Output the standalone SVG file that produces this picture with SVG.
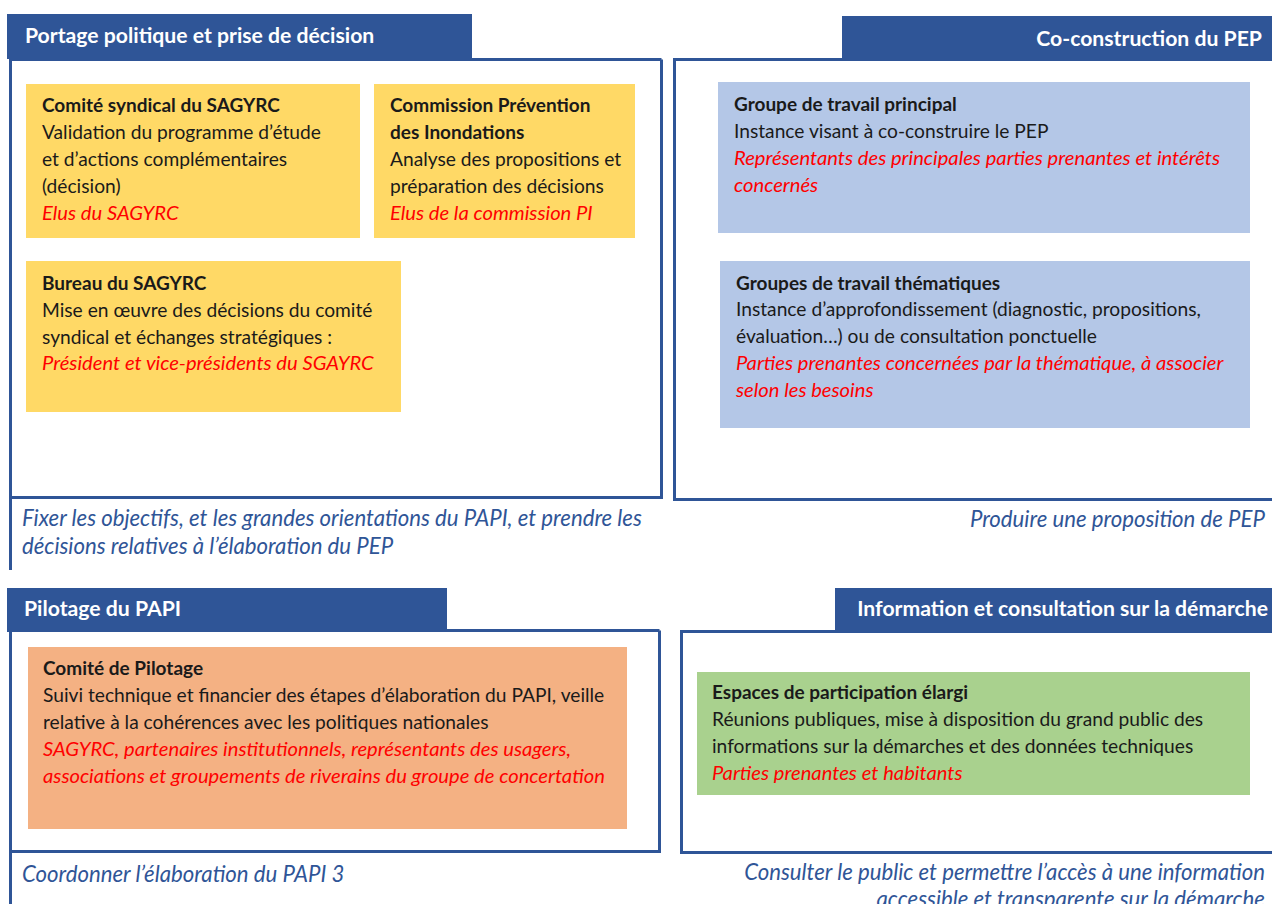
<svg xmlns="http://www.w3.org/2000/svg" width="1272" height="904" viewBox="0 0 1272 904">
<style>
text{font-family:Lato,"Open Sans","Liberation Sans",sans-serif;font-size:19.2px;fill:#1a1a1a}
.hd{fill:#fff;font-weight:bold;font-size:21.2px}
.b{font-weight:bold;font-size:19px}
.r{fill:#ff0000;font-style:italic;font-size:20.2px}
.ft{fill:#2F5597;font-style:italic;font-size:22.2px}
.tab{fill:#2F5597}
.frame{fill:none;stroke:#2F5597;stroke-width:3}
.y{fill:#FFD966}
.bl{fill:#B4C7E7}
.o{fill:#F4B183}
.g{fill:#A9D18E}
.end{text-anchor:end}
</style>
<rect width="1272" height="904" fill="#fff"/>

<g id="panel-portage">
<path class="frame" d="M661.5 59.5 V497.5 H10.5 V570 M10.5 497.5 V59.5 H661.5"/>
<rect class="tab" x="7" y="14" width="465" height="45"/>
<text class="hd" x="25" y="43">Portage politique et prise de décision</text>
<text class="ft" x="22" y="526">Fixer les objectifs, et les grandes orientations du PAPI, et prendre les</text>
<text class="ft" x="22" y="554">décisions relatives à l’élaboration du PEP</text>
</g>

<g id="node-comite-syndical">
<rect class="y" x="26" y="84" width="334" height="154"/>
<text class="b" x="42" y="112">Comité syndical du SAGYRC</text>
<text x="42" y="139">Validation du programme d’étude</text>
<text x="42" y="166">et d’actions complémentaires</text>
<text x="42" y="193">(décision)</text>
<text class="r" x="42" y="220">Elus du SAGYRC</text>
</g>

<g id="node-commission">
<rect class="y" x="374" y="84" width="261" height="154"/>
<text class="b" x="390" y="112">Commission Prévention</text>
<text class="b" x="390" y="139">des Inondations</text>
<text x="390" y="166">Analyse des propositions et</text>
<text x="390" y="193">préparation des décisions</text>
<text class="r" x="390" y="220">Elus de la commission PI</text>
</g>

<g id="node-bureau">
<rect class="y" x="26" y="261" width="375" height="151"/>
<text class="b" x="42" y="290">Bureau du SAGYRC</text>
<text x="42" y="317">Mise en œuvre des décisions du comité</text>
<text x="42" y="344">syndical et échanges stratégiques :</text>
<text class="r" x="42" y="370">Président et vice-présidents du SGAYRC</text>
</g>

<g id="panel-coconstruction">
<path class="frame" d="M1275 499.5 H674.5 V59.5 H1275"/>
<rect class="tab" x="842" y="16" width="430" height="44"/>
<text class="hd end" x="1262" y="46">Co-construction du PEP</text>
<text class="ft end" x="1265" y="527">Produire une proposition de PEP</text>
</g>

<g id="node-groupe-principal">
<rect class="bl" x="718" y="82" width="532" height="151"/>
<text class="b" x="734" y="111">Groupe de travail principal</text>
<text x="734" y="138">Instance visant à co-construire le PEP</text>
<text class="r" x="734" y="165">Représentants des principales parties prenantes et intérêts</text>
<text class="r" x="734" y="192">concernés</text>
</g>

<g id="node-groupes-thematiques">
<rect class="bl" x="720" y="261" width="530" height="167"/>
<text class="b" x="736" y="290">Groupes de travail thématiques</text>
<text x="736" y="316">Instance d’approfondissement (diagnostic, propositions,</text>
<text x="736" y="343">évaluation…) ou de consultation ponctuelle</text>
<text class="r" x="736" y="370">Parties prenantes concernées par la thématique, à associer</text>
<text class="r" x="736" y="397">selon les besoins</text>
</g>

<g id="panel-pilotage">
<path class="frame" d="M659.5 630.5 V851.5 H10.5 V904 M10.5 851.5 V630.5 H659.5"/>
<rect class="tab" x="7" y="588" width="440" height="44"/>
<text class="hd" x="24" y="616">Pilotage du PAPI</text>
<text class="ft" x="22" y="882">Coordonner l’élaboration du PAPI 3</text>
</g>

<g id="node-comite-pilotage">
<rect class="o" x="28" y="647" width="599" height="182"/>
<text class="b" x="43" y="675">Comité de Pilotage</text>
<text x="43" y="702">Suivi technique et financier des étapes d’élaboration du PAPI, veille</text>
<text x="43" y="729">relative à la cohérences avec les politiques nationales</text>
<text class="r" x="43" y="756">SAGYRC, partenaires institutionnels, représentants des usagers,</text>
<text class="r" x="43" y="783">associations et groupements de riverains du groupe de concertation</text>
</g>

<g id="panel-information">
<path class="frame" d="M1275 852.5 H681.5 V631.5 H1275"/>
<rect class="tab" x="835" y="588" width="437" height="44"/>
<text class="hd end" x="1268" y="616">Information et consultation sur la démarche</text>
<text class="ft end" x="1265" y="880">Consulter le public et permettre l’accès à une information</text>
<text class="ft end" x="1265" y="907">accessible et transparente sur la démarche</text>
</g>

<g id="node-espaces">
<rect class="g" x="697" y="672" width="553" height="123"/>
<text class="b" x="712" y="699">Espaces de participation élargi</text>
<text x="712" y="726">Réunions publiques, mise à disposition du grand public des</text>
<text x="712" y="753">informations sur la démarches et des données techniques</text>
<text class="r" x="712" y="780">Parties prenantes et habitants</text>
</g>

<g id="connectors"></g>
</svg>
